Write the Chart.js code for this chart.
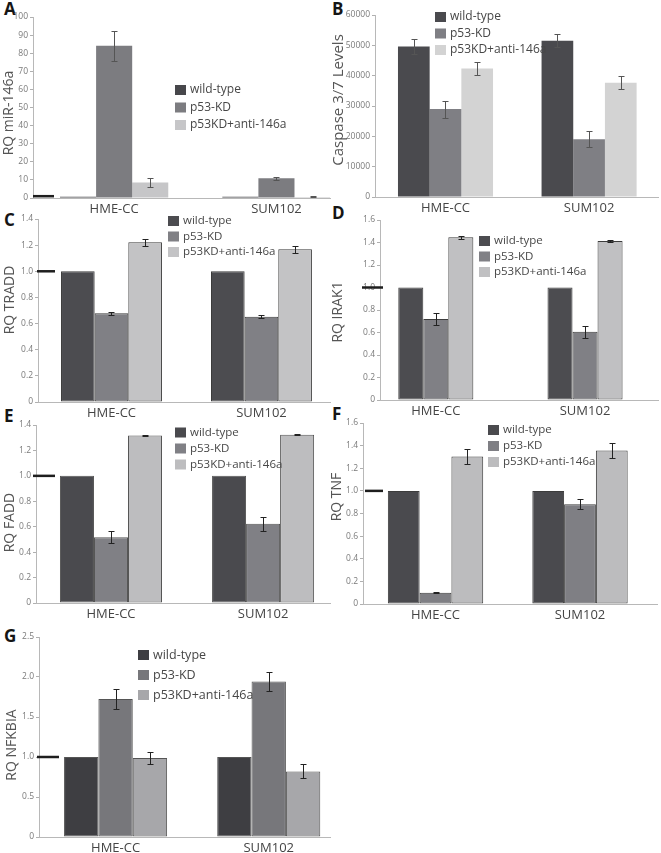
<!DOCTYPE html>
<html>
<head>
<meta charset="utf-8">
<script src="https://cdn.jsdelivr.net/npm/chart.js@4.4.1/dist/chart.umd.min.js"></script>
<style>
  body { margin: 0; background: #fff; width: 661px; height: 853px; position: relative; overflow: hidden; }
  .panel { position: absolute; }
  .tag { position: absolute; font: bold 17px "Open Sans", sans-serif; line-height: 17px; color: #151515; }
</style>
</head>
<body>
<div class="tag" style="left:4px;top:0px">A</div>
<div class="tag" style="left:332px;top:0px">B</div>
<div class="tag" style="left:4px;top:211px">C</div>
<div class="tag" style="left:332px;top:204px">D</div>
<div class="tag" style="left:4px;top:407px">E</div>
<div class="tag" style="left:332px;top:405px">F</div>
<div class="tag" style="left:4px;top:627px">G</div>

<script>
const groups = ['HME-CC', 'SUM102'];
const seriesNames = ['wild-type', 'p53-KD', 'p53KD+anti-146a'];

// A - RQ miR-146a
const mirWT = [0.7, 0.7];
const mirKD = [84.1, 10.9];
const mirAnti = [8.6, 0.6];
const mirKDErr = [8.3, 0.8];
const mirAntiErr = [2.5, 0.3];
const mirTicks = [0, 10, 20, 30, 40, 50, 60, 70, 80, 90, 100];

// B - Caspase 3/7 levels
const caspWT = [49600, 51500];
const caspKD = [29000, 19000];
const caspAnti = [42400, 37700];
const caspWTErr = [2400, 2200];
const caspKDErr = [2800, 2600];
const caspAntiErr = [2100, 2100];
const caspTicks = [0, 10000, 20000, 30000, 40000, 50000, 60000];

// C - RQ TRADD
const traddWT = [1, 1];
const traddKD = [0.679, 0.653];
const traddAnti = [1.222, 1.168];
const traddKDErr = [0.01, 0.01];
const traddAntiErr = [0.025, 0.025];

// D - RQ IRAK1
const irakWT = [1, 1];
const irakKD = [0.72, 0.607];
const irakAnti = [1.446, 1.413];
const irakKDErr = [0.055, 0.055];
const irakAntiErr = [0.012, 0.01];

// E - RQ FADD
const faddWT = [1, 1];
const faddKD = [0.518, 0.624];
const faddAnti = [1.317, 1.323];
const faddKDErr = [0.05, 0.055];
const faddAntiErr = [0.003, 0.003];

// F - RQ TNF
const tnfWT = [1, 1];
const tnfKD = [0.1, 0.882];
const tnfAnti = [1.304, 1.357];
const tnfKDErr = [0.005, 0.045];
const tnfAntiErr = [0.066, 0.067];

// G - RQ NFKBIA
const nfWT = [1, 1];
const nfKD = [1.725, 1.945];
const nfAnti = [0.988, 0.82];
const nfKDErr = [0.12, 0.115];
const nfAntiErr = [0.08, 0.088];

const rqTicks14 = [0, 0.2, 0.4, 0.6, 0.8, 1.0, 1.2, 1.4];
const rqTicks16 = [0, 0.2, 0.4, 0.6, 0.8, 1.0, 1.2, 1.4, 1.6];
const nfTicks = [0, 0.5, 1.0, 1.5, 2.0, 2.5];
const noErr = [0, 0];
const refLevel = 1.0;

const FONT = '"Open Sans", sans-serif';
const X_AXIS_H = 24;
const PAD_TOP = 10;

const fmtDec = v => v === 0 ? '0' : v.toFixed(1);
const fmtInt = v => String(v);

// draws error bars, the 1.0 reference dash, legend and y title
const decor = {
    id: 'decor',
    afterDatasetsDraw(chart, args, opts) {
        const ctx = chart.ctx;
        const y = chart.scales.y;
        const [ox, oy] = opts.origin;
        ctx.save();

        // error bars
        ctx.strokeStyle = opts.errColor;
        ctx.lineWidth = 1;
        chart.data.datasets.forEach((ds, di) => {
            chart.getDatasetMeta(di).data.forEach((bar, i) => {
                const e = ds.errors[i];
                if (!e) return;
                const v = ds.data[i].y;
                const top = Math.round(y.getPixelForValue(v + e)) + 0.5;
                const bot = Math.round(y.getPixelForValue(v - e)) + 0.5;
                const x = Math.round(bar.x) + 0.5;
                ctx.beginPath();
                ctx.moveTo(x, top); ctx.lineTo(x, bot);
                ctx.moveTo(x - opts.cap, top); ctx.lineTo(x + opts.cap, top);
                ctx.moveTo(x - opts.cap, bot); ctx.lineTo(x + opts.cap, bot);
                ctx.stroke();
            });
        });

        // reference dash at 1.0
        if (opts.refDash[1] > opts.refDash[0]) {
            const ry = y.getPixelForValue(refLevel);
            ctx.strokeStyle = '#1e1e1e';
            ctx.lineWidth = 2.5;
            ctx.beginPath();
            ctx.moveTo(opts.refDash[0] - ox, ry);
            ctx.lineTo(opts.refDash[1] - ox, ry);
            ctx.stroke();
        }

        // legend
        ctx.font = opts.legendFont + 'px ' + FONT;
        ctx.textBaseline = 'middle';
        ctx.textAlign = 'left';
        seriesNames.forEach((name, s) => {
            const lx = opts.legend[0] - ox;
            const ly = opts.legend[1] + s * opts.legend[2] - oy;
            ctx.fillStyle = chart.data.datasets[s].backgroundColor;
            ctx.fillRect(lx, ly - 5, 11, 10);
            ctx.fillStyle = '#474747';
            ctx.fillText(name, lx + 15, ly);
        });

        // y title
        ctx.translate(opts.titlePos[0] - ox, opts.titlePos[1] - oy);
        ctx.rotate(-Math.PI / 2);
        ctx.textAlign = 'center';
        ctx.fillStyle = '#555';
        ctx.font = opts.titleFont + 'px ' + FONT;
        ctx.fillText(opts.title, 0, 0);
        ctx.restore();
    }
};

const makePanel = (cfg) => {
    const b = cfg.box;
    const wrap = document.createElement('div');
    wrap.className = 'panel';
    const w = b.right + 3 - b.left;
    const h = b.bottom - b.top + PAD_TOP + X_AXIS_H;
    wrap.style.left = b.left + 'px';
    wrap.style.top = (b.top - PAD_TOP) + 'px';
    const canvas = document.createElement('canvas');
    canvas.width = w;
    canvas.height = h;
    wrap.appendChild(canvas);
    document.body.appendChild(wrap);

    new Chart(canvas.getContext('2d'), {
        type: 'bar',
        data: {
            datasets: seriesNames.map((name, s) => ({
                label: name,
                data: cfg.series[s].map((v, i) => ({ x: i + 1, y: v })),
                errors: cfg.errors[s],
                backgroundColor: cfg.colors[s],
                borderColor: cfg.border || cfg.colors[s],
                borderWidth: cfg.border ? 1 : 0,
                borderSkipped: false,
                categoryPercentage: cfg.catPct,
                barPercentage: 1
            }))
        },
        options: {
            responsive: false,
            animation: false,
            devicePixelRatio: 1,
            layout: { padding: { top: PAD_TOP, right: 3, left: 0, bottom: 0 } },
            plugins: {
                legend: { display: false },
                tooltip: { enabled: false },
                decor: {
                    origin: [b.left, b.top - PAD_TOP],
                    errColor: cfg.errColor || '#222',
                    cap: cfg.cap || 3,
                    refDash: cfg.refDash,
                    legend: cfg.legend,
                    legendFont: cfg.legendFont || 11.5,
                    title: cfg.title,
                    titlePos: cfg.titlePos,
                    titleFont: cfg.titleFont || 14
                }
            },
            scales: {
                x: {
                    type: 'linear',
                    min: cfg.xRange[0],
                    max: cfg.xRange[1],
                    offset: false,
                    afterBuildTicks: s => { s.ticks = groups.map((g, i) => ({ value: i + 1 })); },
                    afterFit: s => { s.height = X_AXIS_H; },
                    ticks: {
                        callback: v => groups[v - 1] || '',
                        font: { size: 13, family: FONT },
                        color: '#454545',
                        padding: 3,
                        maxRotation: 0,
                        autoSkip: false
                    },
                    grid: { display: false, drawTicks: false },
                    border: { color: '#b8b8b8' }
                },
                y: {
                    min: 0,
                    max: cfg.yTicks[cfg.yTicks.length - 1],
                    afterBuildTicks: s => { s.ticks = cfg.yTicks.map(v => ({ value: v })); },
                    afterFit: s => { s.width = b.axisX - b.left; },
                    ticks: {
                        callback: cfg.fmt,
                        font: { size: 8.5, family: FONT },
                        color: '#7a7a7a',
                        padding: 2
                    },
                    grid: { drawOnChartArea: false, tickLength: 3, color: '#b0b0b0' },
                    border: { color: '#b8b8b8' }
                }
            }
        },
        plugins: [decor]
    });
};

// A
makePanel({
    box: { left: 0, axisX: 33, top: 17, bottom: 198, right: 330 },
    xRange: [0.5, 2.33], catPct: 0.667,
    series: [mirWT, mirKD, mirAnti], errors: [noErr, mirKDErr, mirAntiErr],
    yTicks: mirTicks, fmt: fmtInt,
    colors: ['#47474b', '#7c7c80', '#c6c6c8'], errColor: '#555',
    refDash: [33, 54], legend: [175, 90, 17.5], legendFont: 12,
    title: 'RQ miR-146a', titlePos: [9, 113]
});

// B
makePanel({
    box: { left: 330, axisX: 375, top: 15, bottom: 197, right: 658 },
    xRange: [0.509, 2.48], catPct: 0.662,
    series: [caspWT, caspKD, caspAnti], errors: [caspWTErr, caspKDErr, caspAntiErr],
    yTicks: caspTicks, fmt: fmtInt,
    colors: ['#4a4a4e', '#7f7f84', '#d3d3d3'], errColor: '#555',
    refDash: [0, 0], legend: [435, 17, 16.5], legendFont: 12,
    title: 'Caspase 3/7 Levels', titlePos: [339, 100], titleFont: 15
});

// C
makePanel({
    box: { left: 0, axisX: 38, top: 219, bottom: 402, right: 330 },
    xRange: [0.51, 2.457], catPct: 0.673,
    series: [traddWT, traddKD, traddAnti], errors: [noErr, traddKDErr, traddAntiErr],
    yTicks: rqTicks14, fmt: fmtDec,
    colors: ['#4c4c50', '#808085', '#c3c3c5'], border: '#3c3c3c',
    refDash: [37, 55], legend: [168, 221, 15.5],
    title: 'RQ TRADD', titlePos: [10, 300]
});

// D
makePanel({
    box: { left: 330, axisX: 380, top: 220, bottom: 400, right: 658 },
    xRange: [0.626, 2.489], catPct: 0.503,
    series: [irakWT, irakKD, irakAnti], errors: [noErr, irakKDErr, irakAntiErr],
    yTicks: rqTicks16, fmt: fmtDec,
    colors: ['#4c4c50', '#808085', '#c0c0c2'], border: '#3c3c3c',
    refDash: [362, 383], legend: [479, 241, 15.5],
    title: 'RQ IRAK1', titlePos: [338, 312]
});

// E
makePanel({
    box: { left: 0, axisX: 36, top: 424.5, bottom: 603, right: 330 },
    xRange: [0.507, 2.44], catPct: 0.671,
    series: [faddWT, faddKD, faddAnti], errors: [noErr, faddKDErr, faddAntiErr],
    yTicks: rqTicks14, fmt: fmtDec,
    colors: ['#4a4a4e', '#808085', '#bdbdbf'], border: '#555',
    refDash: [33, 55], legend: [175, 432, 16],
    title: 'RQ FADD', titlePos: [10, 522]
});

// F
makePanel({
    box: { left: 330, axisX: 363, top: 423, bottom: 604, right: 657 },
    xRange: [0.498, 2.533], catPct: 0.66,
    series: [tnfWT, tnfKD, tnfAnti], errors: [noErr, tnfKDErr, tnfAntiErr],
    yTicks: rqTicks16, fmt: fmtDec,
    colors: ['#4a4a4e', '#7f7f84', '#bcbcbe'], border: '#3c3c3c',
    refDash: [365, 383], legend: [488, 430, 16],
    title: 'RQ TNF', titlePos: [337, 497]
});

// G
makePanel({
    box: { left: 0, axisX: 39, top: 637, bottom: 837, right: 330 },
    xRange: [0.5, 2.4], catPct: 0.673,
    series: [nfWT, nfKD, nfAnti], errors: [noErr, nfKDErr, nfAntiErr],
    yTicks: nfTicks, fmt: fmtDec,
    colors: ['#3e3e42', '#77777b', '#a7a7aa'], border: '#555',
    refDash: [37, 59], legend: [138, 655, 20], legendFont: 12.5,
    title: 'RQ NFKBIA', titlePos: [12, 745]
});
</script>
</body>
</html>
